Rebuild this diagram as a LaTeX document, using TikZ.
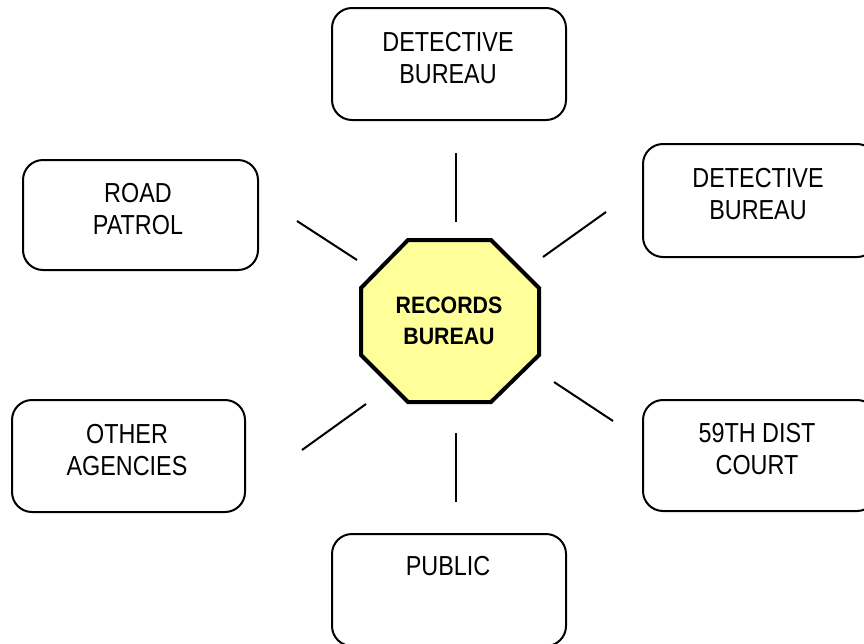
\documentclass[tikz,border=0pt]{standalone}
\usepackage{fontspec}
\setmainfont{Liberation Sans}
\newfontfamily\boxfont[FakeStretch=0.85]{Liberation Sans}
\newfontfamily\centerfont[FakeStretch=0.9]{Liberation Sans}
\definecolor{octfill}{HTML}{FFFF99}
\begin{document}
\begin{tikzpicture}[x=1pt,y=-1pt,
  unitbox/.style={draw=black,line width=2pt,rounded corners=20pt,rectangle,inner sep=0pt,minimum width=234pt,minimum height=112pt},
  boxlabel/.style={align=center,inner sep=0pt,font=\boxfont\fontsize{27.5}{32}\selectfont},
  spoke/.style={draw=black,line width=2pt}]
\useasboundingbox (0,0) rectangle (864,643);
\clip (0,0) rectangle (864,643);
% boxes
\node[unitbox] (topbox) at (449,64) {};
\node[unitbox,minimum width=235pt,minimum height=110pt] (road) at (140.5,215) {};
\node[unitbox,minimum height=113pt] (rdet) at (760,200.5) {};
\node[unitbox,minimum width=233pt] (other) at (128.5,456) {};
\node[unitbox,minimum height=111pt] (court) at (760,455.5) {};
\node[unitbox] (public) at (449,590) {};
% labels
\node[boxlabel] (topboxt) at (448,58.5) {DETECTIVE\\BUREAU};
\node[boxlabel] (roadt) at (138,209) {ROAD\\PATROL};
\node[boxlabel] (rdett) at (758,194) {DETECTIVE\\BUREAU};
\node[boxlabel] (othert) at (127,450) {OTHER\\AGENCIES};
\node[boxlabel] (courtt) at (757,449) {59TH DIST\\COURT};
\node[boxlabel] (publict) at (448,566) {PUBLIC};
% octagon
\draw[line width=4pt,fill=octfill,line join=miter]
  (408,240) -- (491,240) -- (539,288) -- (539,355) -- (491,402) -- (408,402) -- (361,355) -- (361,288) -- cycle;
\node[align=center,inner sep=0pt,font=\centerfont\bfseries\fontsize{23.7}{31}\selectfont] (records) at (449,321) {RECORDS\\BUREAU};
% spokes
\coordinate (t1) at (456,153); \coordinate (t2) at (456,222);
\coordinate (ul1) at (297,221); \coordinate (ul2) at (357,260);
\coordinate (ur1) at (543,257); \coordinate (ur2) at (606,212);
\coordinate (ll1) at (302,450); \coordinate (ll2) at (366,404);
\coordinate (lr1) at (554,382); \coordinate (lr2) at (613,421);
\coordinate (b1) at (456,433); \coordinate (b2) at (456,502);
\draw[spoke] (t1) -- (t2);
\draw[spoke] (ul1) -- (ul2);
\draw[spoke] (ur1) -- (ur2);
\draw[spoke] (ll1) -- (ll2);
\draw[spoke] (lr1) -- (lr2);
\draw[spoke] (b1) -- (b2);
\end{tikzpicture}
\end{document}
